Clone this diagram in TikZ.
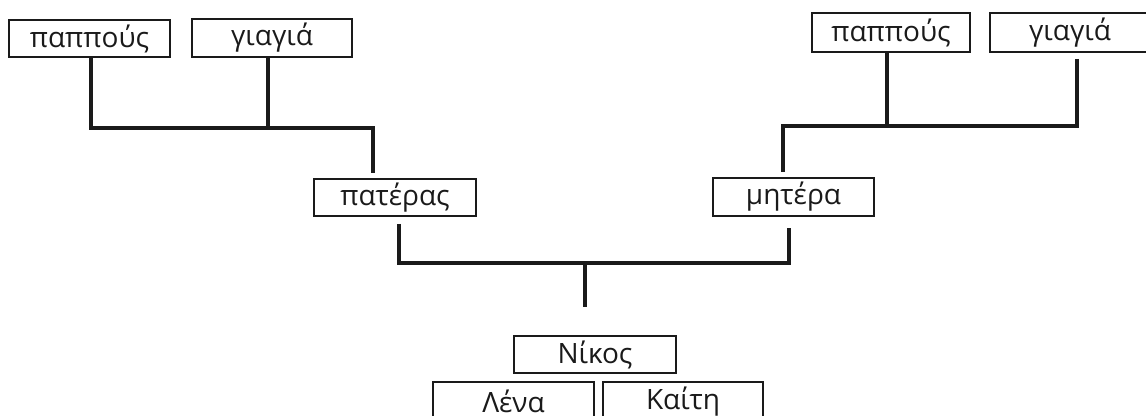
\documentclass[tikz,border=0pt]{standalone}
\usepackage{fontspec}
\setmainfont{Open Sans}
\definecolor{ink}{HTML}{1A1A1A}
\begin{document}
\begin{tikzpicture}[x=0.75pt,y=-0.75pt,
  box/.style={draw=ink, line width=1.4pt, text=ink, inner sep=0pt,
    minimum width={#1*0.75pt}, font=\fontsize{21}{24}\selectfont},
  box/.default=161,
  conn/.style={draw=ink, line width=2.5pt}]
\useasboundingbox (0,0) rectangle (1146,416);
% nodes
\node[box=161, minimum height=27.75pt] (pp1) at (89.5,38.5) {παππούς};
\node[box=160, minimum height=28.5pt] (gg1) at (272,38) {γιαγιά};
\node[box=158, minimum height=29.25pt] (pp2) at (891,32.5) {παππούς};
\node[box=160, minimum height=29.25pt] (gg2) at (1070,32.5) {γιαγιά};
\node[box=162, minimum height=27.75pt] (pat) at (395,197.5) {πατέρας};
\node[box=161, minimum height=28.5pt] (mit) at (793.5,197) {μητέρα};
\node[box=162, minimum height=27.75pt] (nik) at (595,354.5) {Νίκος};
\node[box=161, minimum height=30pt] (len) at (513.5,402) {\raisebox{1pt}{Λένα}};
\node[box=160, minimum height=30pt] (kai) at (683,402) {\raisebox{1pt}{Καίτη}};
% junctions
\coordinate (jL) at (373,128);
\coordinate (jR) at (783,126);
\coordinate (jM) at (585,263);
% left grandparents
\draw[conn, shorten >=3.75pt] ([xshift=1pt]pp1.south) |- (jL) -- (jL |- pat.north);
\draw[conn] ([xshift=-3pt]gg1.south) -- ([xshift=-3pt]gg1.south |- jL);
% right grandparents
\draw[conn, shorten <=4.5pt, shorten >=3.75pt] ([xshift=5.25pt]gg2.south) |- (jR) -- (jR |- mit.north);
\draw[conn] ([xshift=-3pt]pp2.south) -- ([xshift=-3pt]pp2.south |- jR);
% parents
\draw[conn, shorten <=5.25pt, shorten >=8.25pt] ([xshift=3pt]pat.south) |- (jM) -| ([xshift=-3.4pt]mit.south);
\draw[conn, shorten >=21pt] (jM) -- (jM |- nik.north);
\end{tikzpicture}
\end{document}
